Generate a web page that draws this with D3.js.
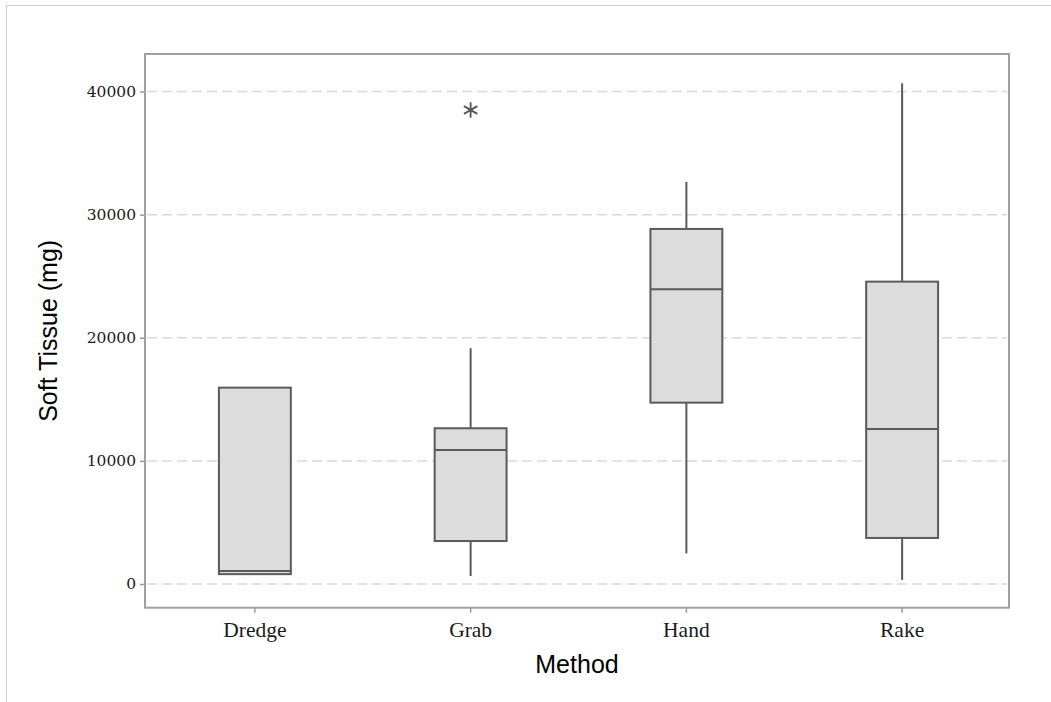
<!DOCTYPE html>
<html>
<head>
<meta charset="utf-8">
<script src="https://cdn.jsdelivr.net/npm/d3@7"></script>
<style>
  html, body { margin: 0; padding: 0; background: #fff; }
  svg { display: block; }
</style>
</head>
<body>
<svg id="chart" width="1051" height="702"></svg>
<script>
// ---- data ----
const categories = ["Dredge", "Grab", "Hand", "Rake"];
const whiskerLow  = [800,   650,   2490,  330];
const q1          = [800,   3490,  14730, 3740];
const median      = [1050,  10890, 23940, 12600];
const q3          = [15950, 12650, 28840, 24560];
const whiskerHigh = [15950, 19150, 32660, 40670];
const outlierCategory = ["Grab"];
const outlierValue    = [38500];
const yTicks = [0, 10000, 20000, 30000, 40000];
const yTitle = "Soft Tissue (mg)";
const xTitle = "Method";

const rows = categories.map((c, i) => ({
  cat: c, lo: whiskerLow[i], q1: q1[i], med: median[i], q3: q3[i], hi: whiskerHigh[i]
}));

const svg = d3.select("#chart");
const L = 145, R = 1009, T = 54, B = 607.7;

// outer light frame
svg.append("rect").attr("x", 6.5).attr("y", 5.5).attr("width", 1100).attr("height", 800)
  .attr("fill", "none").attr("stroke", "#d0d0d0").attr("stroke-width", 1);

const x = d3.scaleBand().domain(categories).range([147, 1010]).paddingInner(0).paddingOuter(0);
const y = d3.scaleLinear().domain([-1925, 43050]).range([B, T]);

// gridlines
svg.append("g").selectAll("line").data(yTicks).join("line")
  .attr("x1", L + 2).attr("x2", R - 2)
  .attr("y1", d => y(d)).attr("y2", d => y(d))
  .attr("stroke", "#d9d9d9").attr("stroke-width", 1.5)
  .attr("stroke-dasharray", "10,5");

// y axis
const yAxis = svg.append("g").attr("transform", `translate(${L},0)`)
  .call(d3.axisLeft(y).tickValues(yTicks).tickSize(5).tickPadding(4).tickFormat(d3.format("d")));
yAxis.select(".domain").remove();
yAxis.selectAll(".tick line").attr("stroke", "#999").attr("stroke-width", 1.5);
yAxis.selectAll(".tick text").attr("fill", "#1a1a1a")
  .style("font-family", "'DejaVu Serif', serif").style("font-size", "15.5px");

// x axis
const xAxis = svg.append("g").attr("transform", `translate(0,${B})`)
  .call(d3.axisBottom(x).tickSize(5).tickPadding(9));
xAxis.select(".domain").remove();
xAxis.selectAll(".tick line").attr("stroke", "#999").attr("stroke-width", 1.5);
xAxis.selectAll(".tick text").attr("fill", "#1a1a1a")
  .style("font-family", "'Liberation Serif', serif").style("font-size", "21.5px");

// boxes
const bw = x.bandwidth() / 3;
const g = svg.append("g");
const cx = d => x(d.cat) + x.bandwidth() / 2;
g.selectAll(".wh").data(rows).join("line").attr("class", "wh")
  .attr("x1", cx).attr("x2", cx).attr("y1", d => y(d.q3)).attr("y2", d => y(d.hi))
  .attr("stroke", "#5a5a5a").attr("stroke-width", 2);
g.selectAll(".wl").data(rows).join("line").attr("class", "wl")
  .attr("x1", cx).attr("x2", cx).attr("y1", d => y(d.q1)).attr("y2", d => y(d.lo))
  .attr("stroke", "#5a5a5a").attr("stroke-width", 2);
g.selectAll(".box").data(rows).join("rect").attr("class", "box")
  .attr("x", d => cx(d) - bw / 2).attr("width", bw)
  .attr("y", d => y(d.q3)).attr("height", d => y(d.q1) - y(d.q3))
  .attr("fill", "#dcdcdc").attr("stroke", "#5a5a5a").attr("stroke-width", 2);
g.selectAll(".med").data(rows).join("line").attr("class", "med")
  .attr("x1", d => cx(d) - bw / 2).attr("x2", d => cx(d) + bw / 2)
  .attr("y1", d => y(d.med)).attr("y2", d => y(d.med))
  .attr("stroke", "#5a5a5a").attr("stroke-width", 2);

// outliers (asterisk)
const outliers = outlierCategory.map((c, i) => ({ cat: c, v: outlierValue[i] }));
const sym = d3.symbolAsterisk || d3.symbolCross;
g.selectAll(".out").data(outliers).join("path").attr("class", "out")
  .attr("transform", d => `translate(${cx(d)},${y(d.v)})`)
  .attr("d", d3.symbol().type(sym).size(170))
  .attr("fill", "none").attr("stroke", "#555").attr("stroke-width", 1.8);

// plot frame
svg.append("rect").attr("x", L).attr("y", T).attr("width", R - L).attr("height", B - T)
  .attr("fill", "none").attr("stroke", "#a0a0a0").attr("stroke-width", 2);

// titles
svg.append("text").attr("x", (L + R) / 2).attr("y", 673).attr("text-anchor", "middle")
  .style("font-family", "'Liberation Sans', Arial, sans-serif").style("font-size", "25px")
  .attr("fill", "#000").text(xTitle);
svg.append("text").attr("transform", `translate(57,${(T + B) / 2}) rotate(-90)`)
  .attr("text-anchor", "middle")
  .style("font-family", "'Liberation Sans', Arial, sans-serif").style("font-size", "25px")
  .attr("fill", "#000").text(yTitle);
</script>
</body>
</html>
